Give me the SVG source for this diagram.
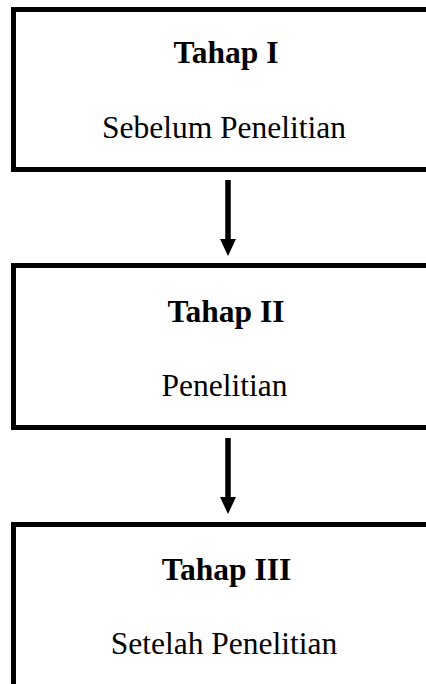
<svg xmlns="http://www.w3.org/2000/svg" width="426" height="684" viewBox="0 0 426 684">
<style>
.box{fill:#fff;stroke:#000;stroke-width:5}
.t{font-family:"Liberation Serif","Times New Roman",serif;font-size:31.5px;text-anchor:middle;fill:#000}
.b{font-weight:bold}
.ln{stroke:#000;stroke-width:5.5}
</style>
<rect width="426" height="684" fill="#fff"/>
<g id="node1">
<rect class="box" x="13.5" y="9.5" width="430" height="160"/>
<text class="t b" x="226" y="63">Tahap I</text>
<text class="t" x="224" y="138">Sebelum Penelitian</text>
</g>
<g id="node2">
<rect class="box" x="13.5" y="265.5" width="430" height="162"/>
<text class="t b" x="226" y="322">Tahap II</text>
<text class="t" x="224.5" y="396">Penelitian</text>
</g>
<g id="node3">
<rect class="box" x="13.5" y="524.5" width="430" height="165"/>
<text class="t b" x="226.5" y="580">Tahap III</text>
<text class="t" x="224" y="654">Setelah Penelitian</text>
</g>
<g id="connectors">
<line class="ln" x1="228" y1="180" x2="228" y2="241"/>
<polygon points="220,239 236,239 228,256" fill="#000"/>
<line class="ln" x1="228" y1="438" x2="228" y2="499"/>
<polygon points="220,497 236,497 228,514" fill="#000"/>
</g>
</svg>
